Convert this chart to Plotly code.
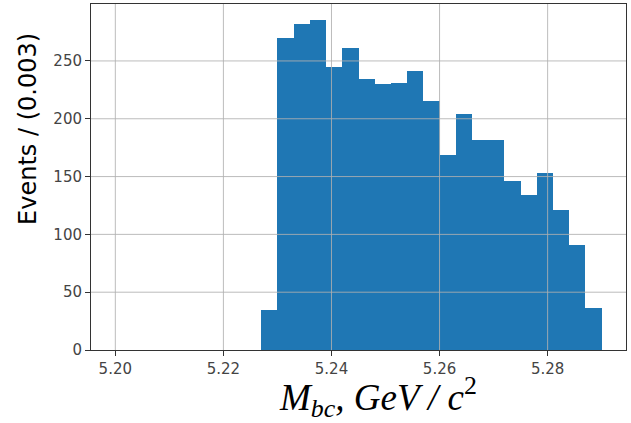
import plotly.graph_objects as go

# Histogram data (bin width 0.003 GeV/c^2)
bin_start = 5.227
bin_width = 0.003
counts = [35, 270, 282, 285, 245, 261, 234, 230, 231, 241, 215,
          169, 204, 182, 182, 146, 134, 153, 121, 91, 36]

x_ticks = [5.20, 5.22, 5.24, 5.26, 5.28]
y_ticks = [0, 50, 100, 150, 200, 250]

x_range = [5.1955, 5.2945]
y_range = [0, 299.25]

centers = [bin_start + bin_width * (i + 0.5) for i in range(len(counts))]

fig = go.Figure()
fig.add_trace(go.Bar(
    x=centers, y=counts, width=bin_width,
    marker=dict(color="#1f77b4", line=dict(width=0)),
    hoverinfo="x+y",
))

grid_color = "rgba(176,176,176,0.85)"
shapes = []
for t in x_ticks:
    shapes.append(dict(type="line", xref="x", yref="paper", x0=t, x1=t, y0=0, y1=1,
                       line=dict(color=grid_color, width=1), layer="above"))
for t in y_ticks[1:]:
    shapes.append(dict(type="line", xref="paper", yref="y", x0=0, x1=1, y0=t, y1=t,
                       line=dict(color=grid_color, width=1), layer="above"))

axis_common = dict(
    showgrid=False, zeroline=False,
    showline=True, linecolor="#333333", linewidth=1, mirror=True,
    ticks="outside", ticklen=5, tickwidth=1, tickcolor="#333333",
    tickfont=dict(family="DejaVu Sans", size=15, color="#444444"),
)

fig.update_layout(
    width=631, height=423,
    margin=dict(l=91, r=5, t=4, b=73),
    paper_bgcolor="white", plot_bgcolor="white",
    bargap=0, showlegend=False,
    shapes=shapes,
    xaxis=dict(range=x_range, tickvals=x_ticks, tickformat=".2f", **axis_common),
    yaxis=dict(range=y_range, tickvals=y_ticks, **axis_common),
    annotations=[
        dict(text="Events / (0.003)", xref="paper", yref="paper", x=0, y=0.639,
             xshift=-63, xanchor="center", yanchor="middle", textangle=-90,
             showarrow=False, font=dict(family="DejaVu Sans", size=24, color="black")),
        dict(text="<i>M</i><sub><i>bc</i></sub><i>, GeV / c</i><sup>2</sup>",
             xref="paper", yref="paper", x=0.536, y=0, yshift=-47,
             xanchor="center", yanchor="middle", showarrow=False,
             font=dict(family="Liberation Serif", size=37, color="black")),
    ],
)

fig.write_html("out.html", config={"displayModeBar": False},
               post_script="document.body.style.margin='0';document.body.style.overflow='hidden';")
